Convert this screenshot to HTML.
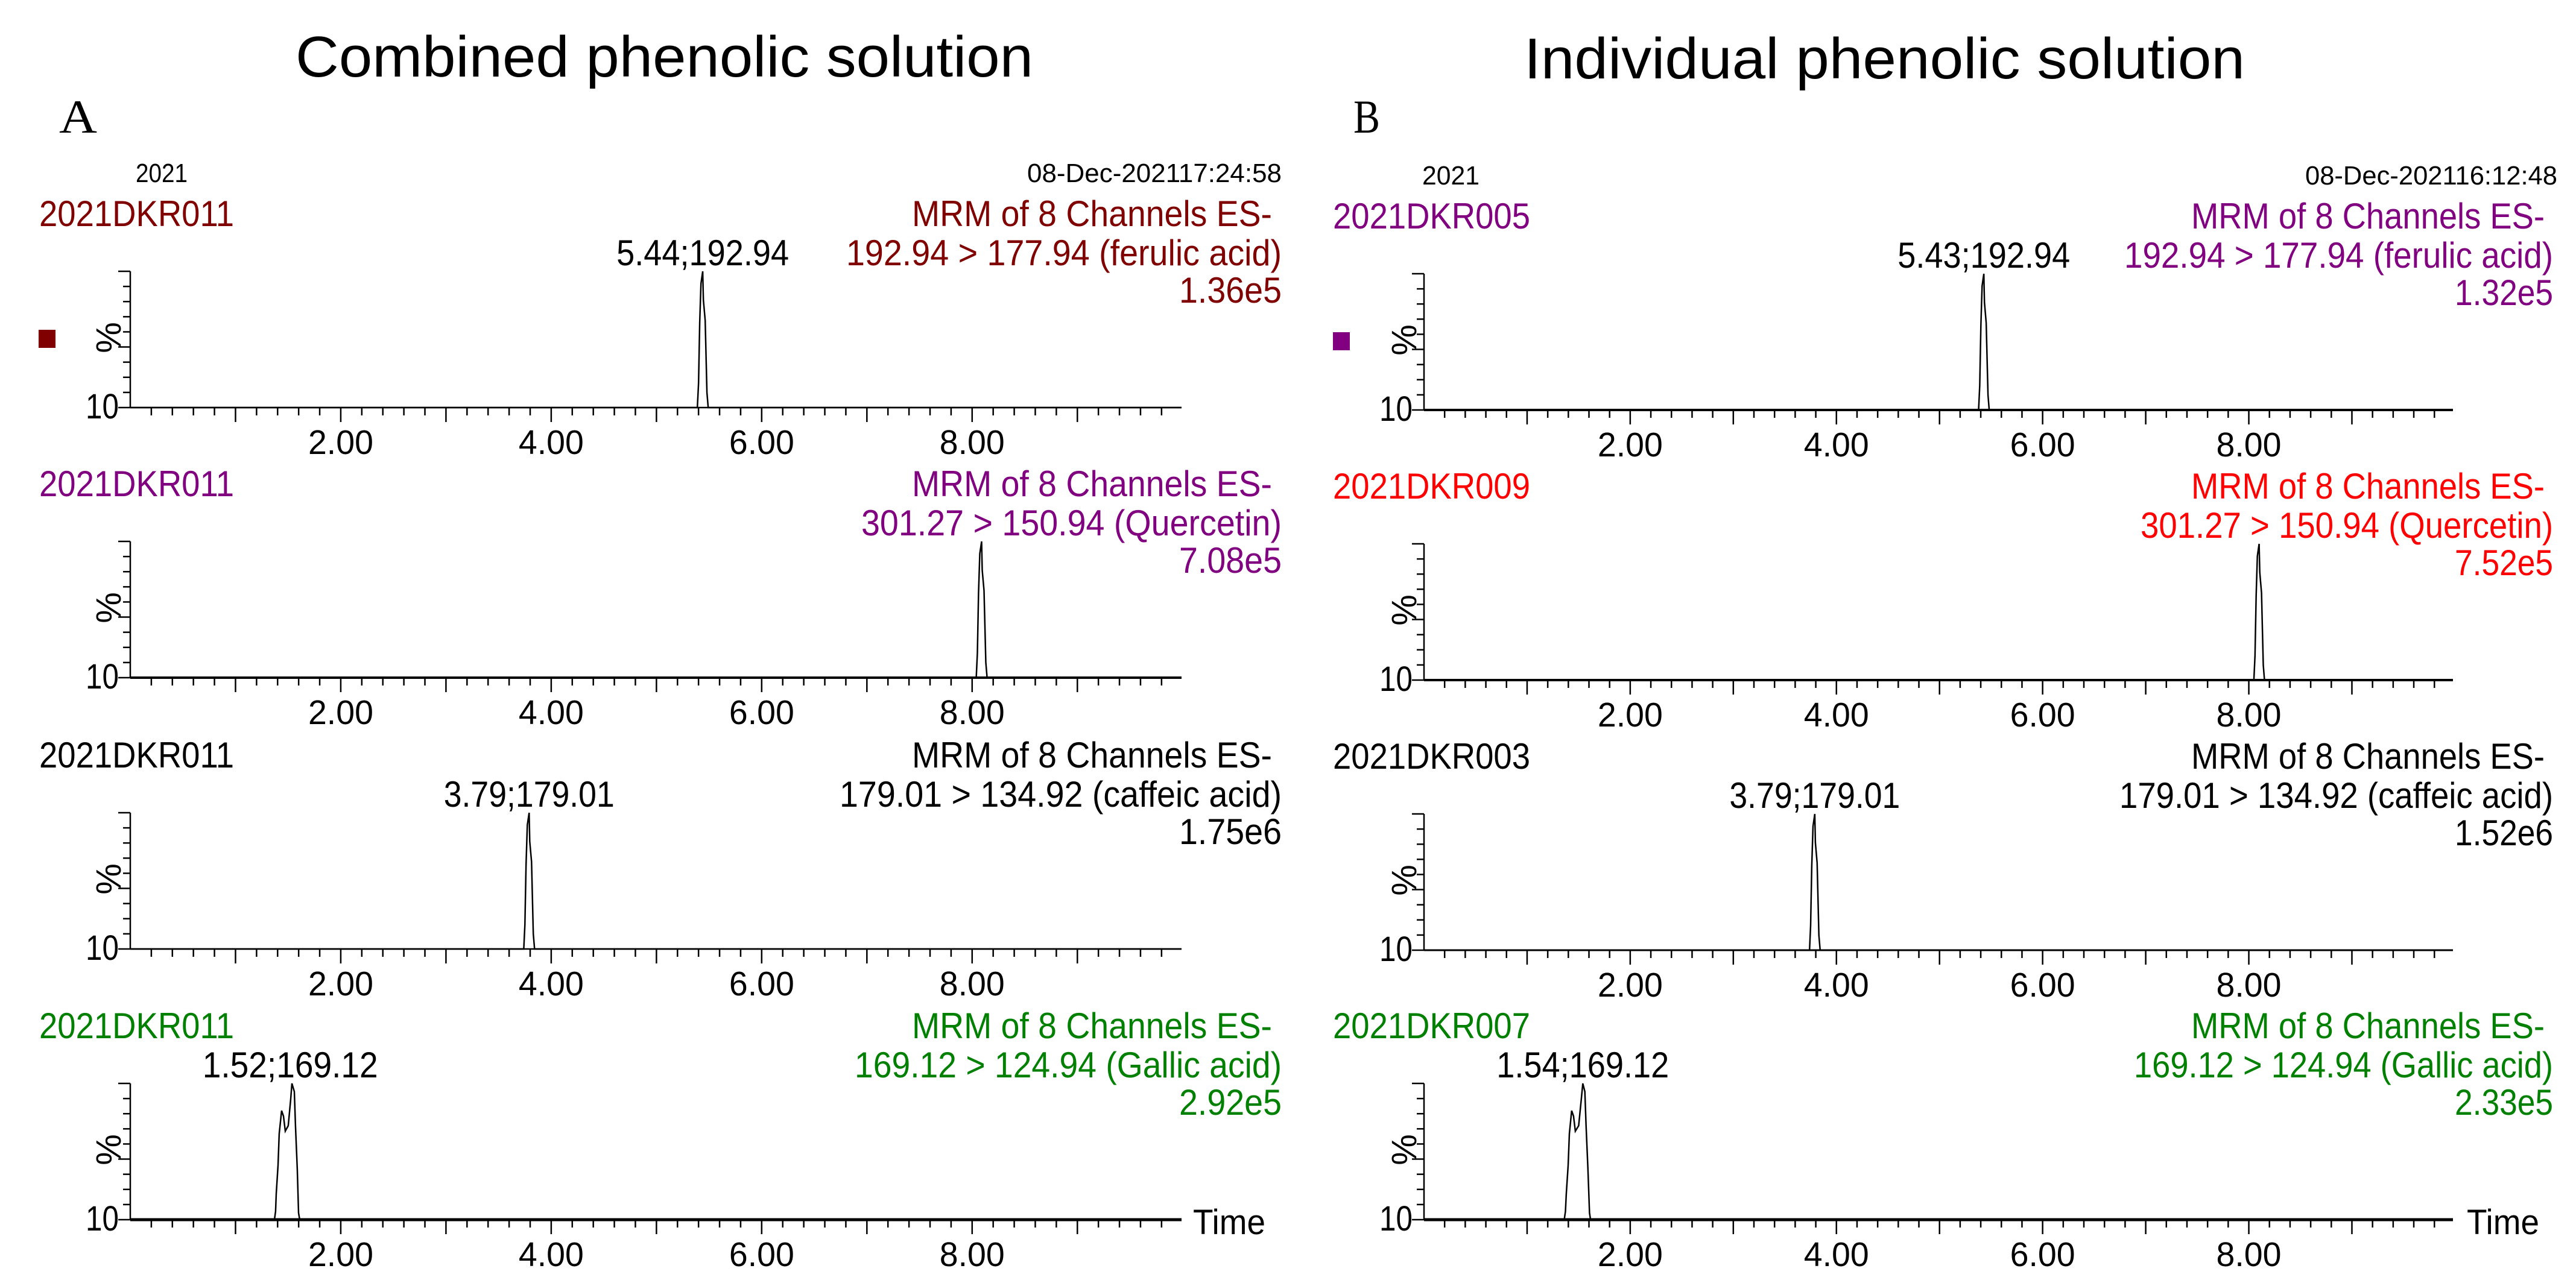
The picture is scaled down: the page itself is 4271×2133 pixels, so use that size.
<!DOCTYPE html>
<html><head><meta charset="utf-8">
<style>
html,body{margin:0;padding:0;background:#fff;}
svg{display:block;}
text{font-family:"Liberation Sans",sans-serif;}
</style></head>
<body>
<svg id="c" width="4271" height="2133" viewBox="0 0 4271 2133" xmlns="http://www.w3.org/2000/svg">
<rect width="4271" height="2133" fill="#fff"/>
<text x="490" y="127" font-size="96" textLength="1223" lengthAdjust="spacingAndGlyphs">Combined phenolic solution</text>
<text x="2527" y="130" font-size="96" textLength="1195" lengthAdjust="spacingAndGlyphs">Individual phenolic solution</text>
<text x="98" y="220" font-size="78" style="font-family:'Liberation Serif',serif" textLength="63" lengthAdjust="spacingAndGlyphs">A</text>
<text x="2244" y="220" font-size="78" style="font-family:'Liberation Serif',serif" textLength="44" lengthAdjust="spacingAndGlyphs">B</text>
<text x="225" y="302" font-size="44" textLength="86" lengthAdjust="spacingAndGlyphs">2021</text>
<text x="2125" y="302" font-size="44" text-anchor="end" textLength="422" lengthAdjust="spacingAndGlyphs">08-Dec-202117:24:58</text>
<text x="2358" y="306" font-size="44" textLength="95" lengthAdjust="spacingAndGlyphs">2021</text>
<text x="4240" y="306" font-size="44" text-anchor="end" textLength="418" lengthAdjust="spacingAndGlyphs">08-Dec-202116:12:48</text>
<g id="plots"></g>
</svg>
<script>
// ---- data ----
const sampleNamesLeft = ["2021DKR011","2021DKR011","2021DKR011","2021DKR011"];
const sampleNamesRight = ["2021DKR005","2021DKR009","2021DKR003","2021DKR007"];
const transitions = ["192.94 > 177.94 (ferulic acid)","301.27 > 150.94 (Quercetin)","179.01 > 134.92 (caffeic acid)","169.12 > 124.94 (Gallic acid)"];
const intensitiesLeft = ["1.36e5","7.08e5","1.75e6","2.92e5"];
const intensitiesRight = ["1.32e5","7.52e5","1.52e6","2.33e5"];
const peakLabelsLeft = ["5.44;192.94","","3.79;179.01","1.52;169.12"];
const peakLabelsRight = ["5.43;192.94","","3.79;179.01","1.54;169.12"];
const peakTimesLeft = [5.44, 8.09, 3.79, 1.52];
const peakTimesRight = [5.43, 8.10, 3.79, 1.54];
const colorsLeft = ["#800000","#800080","#000000","#008000"];
const colorsRight = ["#800080","#ff0000","#000000","#008000"];
const xTickLabels = ["2.00","4.00","6.00","8.00"];
const xTickValues = [2,4,6,8];
// single sharp peak (time offsets from apex, relative height)
const sharpPeakDt = [-0.051,-0.040,-0.029,-0.017,0,0.006,0.023,0.040,0.052];
const sharpPeakH  = [0,0.18,0.62,0.91,1.0,0.79,0.64,0.11,0];
// gallic acid trace (times, relative height)
const gallicTimesLeft = [1.370,1.381,1.387,1.404,1.415,1.438,1.456,1.473,1.501,1.524,1.536,1.559,1.570,1.587,1.599,1.610];
const gallicTimesRight = [1.360,1.372,1.380,1.398,1.410,1.432,1.450,1.468,1.500,1.525,1.540,1.560,1.572,1.590,1.605,1.615];
const gallicH = [0,0.06,0.19,0.40,0.63,0.80,0.76,0.65,0.69,0.88,1.0,0.94,0.69,0.37,0.05,0];

const NS="http://www.w3.org/2000/svg";
const root=document.getElementById('plots');
function mk(tag,attrs,parent){const e=document.createElementNS(NS,tag);for(const k in attrs)e.setAttribute(k,attrs[k]);(parent||root).appendChild(e);return e;}
function txt(s,attrs,parent){const e=mk('text',attrs,parent);e.textContent=s;return e;}

const layouts=[
 {side:'left',x0:216,x1:1959,tmax:9.99,axes:[676,1124,1574,2023],aw:[2.5,4,2.5,5],
  nameX:65,nameW:323,mrmR:2109,mrmW:597,lineR:2125,lineW:[722,697,733,708],valR:2125,valW:170,
  plW:[286,0,283,291],sqX:64,sqC:"#800000",pctX:180,tenR:197,timeX:1978,
  names:sampleNamesLeft,ints:intensitiesLeft,pls:peakLabelsLeft,pts:peakTimesLeft,cols:colorsLeft,gal:gallicTimesLeft},
 {side:'right',x0:2361,x1:4067,tmax:9.98,axes:[680,1128,1576,2023],aw:[4,4,3,5],
  nameX:2210,nameW:327,mrmR:4219,mrmW:586,lineR:4233,lineW:[711,684,719,695],valR:4233,valW:163,
  plW:[286,0,283,286],sqX:2210,sqC:"#800080",pctX:2328,tenR:2342,timeX:4090,
  names:sampleNamesRight,ints:intensitiesRight,pls:peakLabelsRight,pts:peakTimesRight,cols:colorsRight,gal:gallicTimesRight}
];

layouts.forEach(L=>{
  const sx=t=>L.x0+(L.x1-L.x0)*t/L.tmax;
  for(let i=0;i<4;i++){
    const yA=L.axes[i], H=226, yT=yA-H;
    const sy=h=>yA-h*H;
    const g=mk('g',{});
    
    
    const col=L.cols[i];
    let e;
    e=txt(L.names[i],{x:L.nameX,y:yA-301,'font-size':60,fill:col,textLength:L.nameW,lengthAdjust:'spacingAndGlyphs'},g);
    
    e=txt("MRM of 8 Channels ES-",{x:L.mrmR,y:yA-301,'font-size':60,fill:col,'text-anchor':'end',textLength:L.mrmW,lengthAdjust:'spacingAndGlyphs'},g);
    
    e=txt(transitions[i],{x:L.lineR,y:yA-236,'font-size':60,fill:col,'text-anchor':'end',textLength:L.lineW[i],lengthAdjust:'spacingAndGlyphs'},g);
    
    e=txt(L.ints[i],{x:L.valR,y:yA-174,'font-size':60,fill:col,'text-anchor':'end',textLength:L.valW,lengthAdjust:'spacingAndGlyphs'},g);
    
    if(L.pls[i]){
      e=txt(L.pls[i],{x:sx(L.pts[i]),y:yA-236,'font-size':60,fill:'#000','text-anchor':'middle',textLength:L.plW[i],lengthAdjust:'spacingAndGlyphs'},g);
      
    }
    if(i===0){
      e=mk('rect',{x:L.sqX,y:yA-129,width:28,height:30,fill:L.sqC},g);
      
    }
    e=txt("%",{x:0,y:0,'font-size':58,fill:'#000','text-anchor':'middle',transform:`translate(${L.pctX+20},${yA-116}) rotate(-90)`},g);
    
    e=txt("10",{x:L.tenR,y:yA+18,'font-size':58,fill:'#000','text-anchor':'end',textLength:55,lengthAdjust:'spacingAndGlyphs'},g);
    
    // y axis
    e=mk('line',{x1:L.x0,y1:yT,x2:L.x0,y2:yA,stroke:'#000','stroke-width':2.5},g);
    
    for(let k=0;k<=9;k++){
      const yy=yT+k*H/9; const len=(k===0||k===5||k===9)?20:12;
      e=mk('line',{x1:L.x0-len,y1:yy,x2:L.x0,y2:yy,stroke:'#000','stroke-width':2.5},g);
      
    }
    // x axis
    e=mk('line',{x1:L.x0,y1:yA,x2:L.x1,y2:yA,stroke:'#000','stroke-width':L.aw[i]},g);
    
    for(let k=1;k<=49;k++){
      const t=k*0.2; const major=(k%5===0);
      e=mk('line',{x1:sx(t),y1:yA,x2:sx(t),y2:yA+(major?24:13),stroke:'#000','stroke-width':2.5},g);
      
    }
    xTickValues.forEach((v,j)=>{
      const t=txt(xTickLabels[j],{x:sx(v),y:yA+77,'font-size':57,fill:'#000','text-anchor':'middle',textLength:108,lengthAdjust:'spacingAndGlyphs'},g);
      
    });
    if(i===3){
      e=txt("Time",{x:L.timeX,y:yA+24,'font-size':58,fill:'#000',textLength:120,lengthAdjust:'spacingAndGlyphs'},g);
      
    }
    // trace
    let pts=[];
    if(i===3){ pts=L.gal.map((t,k)=>[sx(t),sy(gallicH[k])]); }
    else { pts=sharpPeakDt.map((d,k)=>[sx(L.pts[i]+d),sy(sharpPeakH[k])]); }
    const dstr='M'+L.x0+','+yA+' L'+pts.map(p=>p[0].toFixed(1)+','+p[1].toFixed(1)).join(' L')+' L'+L.x1+','+yA;
    e=mk('path',{d:dstr,fill:'none',stroke:'#000','stroke-width':2.5,'stroke-linejoin':'miter'},g);
    
  }
});
</script>
</body></html>
